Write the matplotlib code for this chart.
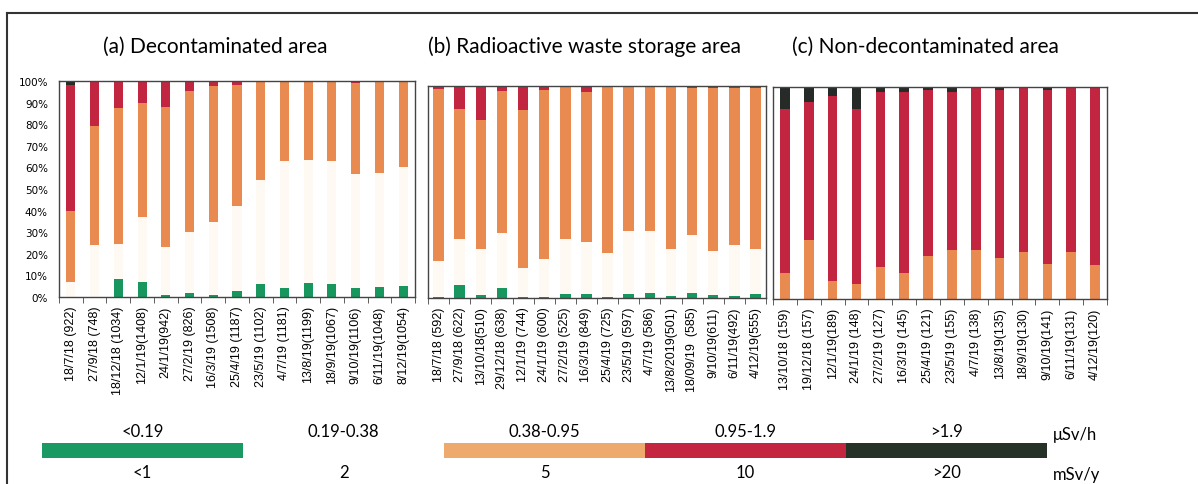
import numpy as np
import matplotlib
matplotlib.use('Agg')
import matplotlib.pyplot as plt
from matplotlib.lines import Line2D

# (a) Decontaminated area
labels_a = ['18/7/18 (922)', '27/9/18 (748)', '18/12/18 (1034)', '12/1/19(1408)', '24/1/19(942)',
            '27/2/19 (826)', '16/3/19 (1508)', '25/4/19 (1187)', '23/5/19 (1102)', '4/7/19 (1181)',
            '13/8/19(1199)', '18/9/19(1067)', '9/10/19(1106)', '6/11/19(1048)', '8/12/19(1054)']
green_a = [0, 0, 8.5, 7, 1, 2, 1, 3, 6, 4, 6.5, 6, 4, 4.5, 5]
cream_a = [7, 24, 16, 30, 22, 28, 33.5, 39, 48, 59, 57, 57, 53, 53, 55]
orange_a = [33, 55, 63, 53, 65, 65.5, 63, 56, 46, 37, 36.5, 37, 42, 42.5, 40]
red_a = [58, 21, 12.5, 10, 12, 4.5, 2.5, 2, 0, 0, 0, 0, 1, 0, 0]
black_a = [2, 0, 0, 0, 0, 0, 0, 0, 0, 0, 0, 0, 0, 0, 0]

# (b) Radioactive waste storage area
labels_b = ['18/7/18 (592)', '27/9/18 (622)', '13/10/18(510)', '29/12/18 (638)', '12/1/19 (744)',
            '24/1/19 (600)', '27/2/19 (525)', '16/3/19 (849)', '25/4/19 (725)', '23/5/19 (597)',
            '4/7/19 (586)', '13/8/2019(501)', '18/09/19  (585)', '9/10/19(611)', '6/11/19(492)',
            '4/12/19(555)']
green_b = [0.5, 6, 1.3, 4.5, 0.3, 0.3, 2, 2, 0.3, 2, 2.5, 1, 2.5, 1.2, 1, 1.7]
cream_b = [17, 22, 21.7, 26, 13.7, 18.3, 26, 24.5, 20.7, 29.4, 29, 22, 27, 21, 24, 21.3]
orange_b = [81, 61, 61, 67, 74.5, 79.4, 72, 70.5, 79, 68.6, 68.5, 77, 69.5, 76.8, 74, 76]
red_b = [1.5, 11, 16, 2.5, 11.5, 2, 0, 3, 0, 0, 0, 0, 1, 1, 1, 1]
black_b = [0] * 16

# (c) Non-decontaminated area
labels_c = ['13/10/18 (159)', '19/12/18 (157)', '12/1/19(189)', '24/1/19 (148)', '27/2/19 (127)',
            '16/3/19 (145)', '25/4/19 (121)', '23/5/19 (155)', '4/7/19 (138)', '13/8/19(135)',
            '18/9/19(130)', '9/10/19(141)', '6/11/19(131)', '4/12/19(120)']
green_c = [0] * 14
cream_c = [0] * 14
orange_c = [12.5, 27.8, 8.4, 7.3, 15.1, 12.3, 20.3, 23, 23, 19.4, 22, 16.7, 22.4, 16.2]
red_c = [77.2, 65.1, 87.2, 82.4, 82.5, 85.3, 78.4, 74.6, 76.5, 79, 78, 81.8, 77.1, 83.8]
black_c = [10.3, 7.1, 4.4, 10.3, 2.4, 2.4, 1.3, 2.4, 0.5, 1.6, 0, 1.5, 0.5, 0]

# legend scale
dose_rate = ['<0.19', '0.19-0.38', '0.38-0.95', '0.95-1.9', '>1.9']
annual_dose = ['<1', '2', '5', '10', '>20']

colors = ['#17965e', '#fff9f3', '#e98a50', '#c1253f', '#262b28']
legend_colors = ['#1a9a62', '#ffffff', '#eeaa6c', '#c4263f', '#263128']

fig = plt.figure(figsize=(11.98, 4.85), dpi=100)


def panel(rect, labels, series, width, title, title_x, show_y):
    ax = fig.add_axes(rect)
    x = np.arange(len(labels))
    bottom = np.zeros(len(labels))
    for vals, c in zip(series, colors):
        ax.bar(x, vals, width, bottom=bottom, color=c, linewidth=0)
        bottom += np.array(vals)
    ax.set_xlim(-0.5, len(labels) - 0.5)
    ax.set_ylim(0, 100)
    ax.set_xticks(x)
    ax.set_xticklabels(labels, rotation=90, fontsize=9, family='Liberation Sans')
    ax.tick_params(axis='x', which='major', length=0, pad=6)
    ax.set_xticks(np.arange(len(labels) + 1) - 0.5, minor=True)
    ax.tick_params(axis='x', which='minor', length=4, color='#444444', direction='out')
    ax.set_yticks(np.arange(0, 101, 10))
    if show_y:
        ax.set_yticklabels(['%d%%' % v for v in range(0, 101, 10)], fontsize=7.5)
        ax.tick_params(axis='y', length=0, pad=8)
    else:
        ax.set_yticklabels([])
        ax.tick_params(axis='y', length=0)
    for s in ax.spines.values():
        s.set_color('#444444')
        s.set_linewidth(1.0)
    fig.text(title_x, 1 - 47 / 485, title, ha='center', va='center',
             fontsize=15, family='Lato')
    return ax


panel([59 / 1198, 1 - 298 / 485, 356 / 1198, 216 / 485], labels_a,
      [green_a, cream_a, orange_a, red_a, black_a], 0.38,
      '(a) Decontaminated area', 215 / 1198, True)
panel([428 / 1198, 1 - 299 / 485, 338 / 1198, 212 / 485], labels_b,
      [green_b, cream_b, orange_b, red_b, black_b], 0.5,
      '(b) Radioactive waste storage area', 585 / 1198, False)
panel([773 / 1198, 1 - 300 / 485, 334 / 1198, 212 / 485], labels_c,
      [green_c, cream_c, orange_c, red_c, black_c], 0.4,
      '(c) Non-decontaminated area', 925 / 1198, False)

# colour scale legend at the bottom
lax = fig.add_axes([42 / 1198, 1 - 459 / 485, 1005 / 1198, 15 / 485])
pos = np.arange(len(dose_rate))
lax.bar(pos, [1] * len(pos), 1.0, bottom=-0.5, color=legend_colors, linewidth=0)
lax.set_xlim(-0.5, len(pos) - 0.5)
lax.set_ylim(-0.5, 0.5)
lax.axis('off')
tr = lax.get_xaxis_transform()
for p, top, low in zip(pos, dose_rate, annual_dose):
    lax.text(p, 1.8, top, transform=tr, ha='center', va='center', fontsize=12, family='Lato')
    lax.text(p, -0.95, low, transform=tr, ha='center', va='center', fontsize=12, family='Lato')
lax.text(4.53, 1.6, 'μSv/h', transform=tr, ha='left', va='center', fontsize=12, family='Lato')
lax.text(4.53, -1.05, 'mSv/y', transform=tr, ha='left', va='center', fontsize=12, family='Lato')

# outer frame of the scanned figure
fig.add_artist(Line2D([7 / 1198, 7 / 1198], [0, 1 - 14 / 485], color='#333333', lw=1.5))
fig.add_artist(Line2D([7 / 1198, 1], [1 - 14 / 485, 1 - 14 / 485], color='#333333', lw=1.5))

fig.savefig('out.png', dpi=100)
